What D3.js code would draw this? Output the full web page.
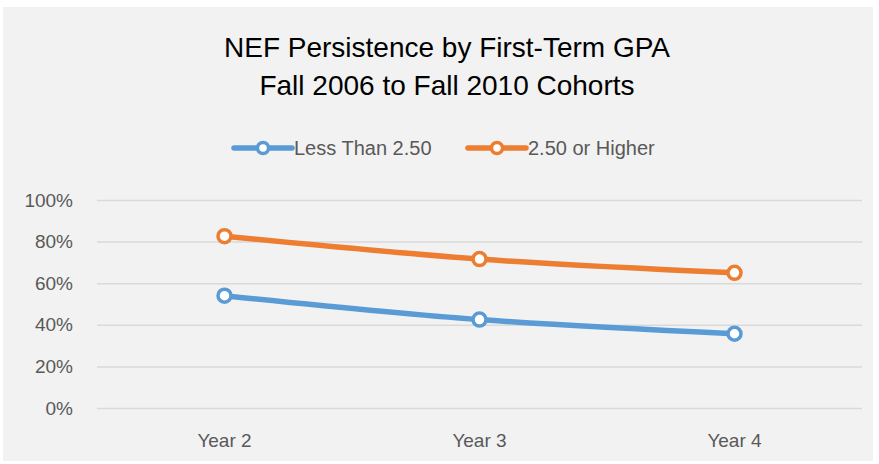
<!DOCTYPE html>
<html>
<head>
<meta charset="utf-8">
<script src="https://cdn.jsdelivr.net/npm/d3@7"></script>
<style>
  html, body { margin: 0; padding: 0; background: #fff; }
  svg { display: block; font-family: "Liberation Sans", Arial, sans-serif; }
</style>
</head>
<body>
<svg id="chart" width="879" height="464"></svg>
<script>
// chart data
const years = ["Year 2", "Year 3", "Year 4"];
const lessThan250 = [0.54, 0.425, 0.357];
const orHigher250 = [0.826, 0.716, 0.65];
const seriesNames = ["Less Than 2.50", "2.50 or Higher"];
const seriesColors = ["#5B9BD5", "#ED7D31"];
const yTicks = [0, 0.2, 0.4, 0.6, 0.8, 1.0];
const titleLines = ["NEF Persistence by First-Term GPA", "Fall 2006 to Fall 2010 Cohorts"];

const svg = d3.select("#chart");
const W = 879, H = 464;

// chart area background
svg.append("rect").attr("x", 3).attr("y", 7).attr("width", W - 9).attr("height", H - 10)
  .attr("fill", "#f2f2f2");

// title
svg.append("g").selectAll("text").data(titleLines).join("text")
  .attr("x", 447).attr("y", (d, i) => 57 + i * 38)
  .attr("text-anchor", "middle")
  .attr("font-size", 28).attr("fill", "#000")
  .text((d) => d);

const plot = { left: 97, right: 862, top: 200, bottom: 408 };

const x = d3.scaleBand().domain(years).range([plot.left, plot.right]);
const y = d3.scaleLinear().domain([0, 1]).range([plot.bottom, plot.top]);

// gridlines + y labels
const yAxis = d3.axisLeft(y).tickValues(yTicks).tickFormat(d3.format(".0%"))
  .tickSize(-(plot.right - plot.left)).tickPadding(24);
const gy = svg.append("g").attr("transform", `translate(${plot.left},0)`).call(yAxis);
gy.select(".domain").remove();
gy.selectAll(".tick line").attr("stroke", "#d9d9d9").attr("stroke-width", 1.5);
gy.selectAll(".tick text").attr("font-size", 19).attr("fill", "#595959")
  .attr("font-family", "Liberation Sans, Arial, sans-serif");

// x labels
const xAxis = d3.axisBottom(x).tickSize(0).tickPadding(26);
const gx = svg.append("g").attr("transform", `translate(0,${plot.bottom})`).call(xAxis);
gx.select(".domain").remove();
gx.selectAll(".tick text").attr("font-size", 19).attr("fill", "#595959")
  .attr("font-family", "Liberation Sans, Arial, sans-serif");

const cx = (d, i) => x(years[i]) + x.bandwidth() / 2;
const line = d3.line().x(cx).y((d) => y(d)).curve(d3.curveMonotoneX);

[lessThan250, orHigher250].forEach((vals, s) => {
  svg.append("path").datum(vals).attr("d", line)
    .attr("fill", "none").attr("stroke", seriesColors[s])
    .attr("stroke-width", 5.5).attr("stroke-linecap", "round");
  svg.append("g").selectAll("circle").data(vals).join("circle")
    .attr("cx", cx).attr("cy", (d) => y(d)).attr("r", 6.5)
    .attr("fill", "#fff").attr("stroke", seriesColors[s]).attr("stroke-width", 3.5);
});

// legend
const legendX = [234, 468];
const lg = svg.append("g").selectAll("g").data(seriesNames).join("g")
  .attr("transform", (d, i) => `translate(${legendX[i]},148)`);
lg.append("line").attr("x1", 0).attr("x2", 58).attr("y1", 0).attr("y2", 0)
  .attr("stroke", (d, i) => seriesColors[i]).attr("stroke-width", 5.5).attr("stroke-linecap", "round");
lg.append("circle").attr("cx", 29).attr("cy", 0).attr("r", 5.5)
  .attr("fill", "#fff").attr("stroke", (d, i) => seriesColors[i]).attr("stroke-width", 3.5);
lg.append("text").attr("x", 60).attr("y", 7).attr("font-size", 20).attr("fill", "#595959")
  .text((d) => d);
</script>
</body>
</html>
